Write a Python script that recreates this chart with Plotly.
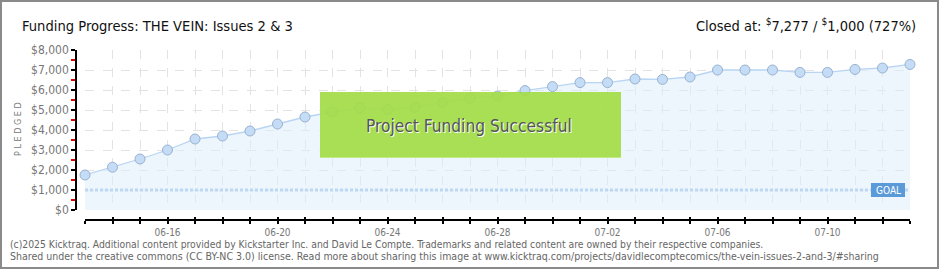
import plotly.graph_objects as go

# Daily pledged totals for the campaign
dates = [
    "2025-06-13", "2025-06-14", "2025-06-15", "2025-06-16", "2025-06-17", "2025-06-18",
    "2025-06-19", "2025-06-20", "2025-06-21", "2025-06-22", "2025-06-23", "2025-06-24",
    "2025-06-25", "2025-06-26", "2025-06-27", "2025-06-28", "2025-06-29", "2025-06-30",
    "2025-07-01", "2025-07-02", "2025-07-03", "2025-07-04", "2025-07-05", "2025-07-06",
    "2025-07-07", "2025-07-08", "2025-07-09", "2025-07-10", "2025-07-11", "2025-07-12",
    "2025-07-13",
]
pledged = [
    1750, 2140, 2550, 3000, 3550, 3700, 3950, 4300, 4650, 4900, 5100, 5030,
    5130, 5370, 5600, 5700, 5970, 6170, 6370, 6370, 6550, 6530, 6650, 7000,
    7000, 7000, 6880, 6880, 7030, 7100, 7277,
]
goal = 1000

label_dates = ["2025-06-16", "2025-06-20", "2025-06-24", "2025-06-28",
               "2025-07-02", "2025-07-06", "2025-07-10"]
label_text = ["06-16", "06-20", "06-24", "06-28", "07-02", "07-06", "07-10"]
y_ticks = [0, 1000, 2000, 3000, 4000, 5000, 6000, 7000, 8000]
y_labels = ["$0", "$1,000", "$2,000", "$3,000", "$4,000", "$5,000", "$6,000", "$7,000", "$8,000"]

FONT = "Liberation Sans Narrow, DejaVu Sans Condensed, Roboto, sans-serif"
W, H = 940, 270
ML, MR, MT, MB = 76, 30, 50, 50
PW, PH = W - ML - MR, H - MT - MB


def px(x):
    return (x - ML) / PW


def py(y):
    return (H - MB - y) / PH


ticktext = [label_text[label_dates.index(d)] if d in label_dates else "" for d in dates]

fig = go.Figure()

# goal line
fig.add_trace(go.Scatter(
    x=[dates[0], dates[-1]], y=[goal, goal], mode="lines",
    line=dict(color="#98bde8", width=3, dash="3px,2px"),
    hoverinfo="skip", showlegend=False,
))

# pledged progress with shaded area
fig.add_trace(go.Scatter(
    x=dates, y=pledged, mode="lines+markers",
    fill="tozeroy", fillcolor="rgba(222,236,252,0.55)",
    line=dict(color="#b9d5f3", width=1.3),
    marker=dict(size=10, color="#c5dcf7", line=dict(color="#98b2cf", width=1)),
    cliponaxis=False, showlegend=False,
))

# second x axis only for inward half of the day ticks
fig.add_trace(go.Scatter(x=[dates[0]], y=[None], xaxis="x2", showlegend=False,
                         hoverinfo="skip"))

fig.update_layout(
    width=W, height=H,
    margin=dict(l=ML, r=MR, t=MT, b=MB),
    paper_bgcolor="white", plot_bgcolor="white",
    xaxis=dict(
        domain=[px(85), 1], anchor="free", position=0,
        range=[dates[0], dates[-1]],
        tickmode="array", tickvals=dates, ticktext=ticktext,
        showgrid=True, gridcolor="#e3e3e3", griddash="dash", gridwidth=1,
        showline=True, linecolor="black", linewidth=1.5,
        ticks="outside", ticklen=3, tickcolor="black", tickwidth=1.5,
        tickfont=dict(family=FONT, size=10, color="#777777"),
        zeroline=False,
    ),
    xaxis2=dict(
        overlaying="x", domain=[px(85), 1], anchor="free", position=0,
        range=[dates[0], dates[-1]],
        tickmode="array", tickvals=dates, showticklabels=False,
        showgrid=False, showline=False, zeroline=False,
        ticks="inside", ticklen=3, tickcolor="black", tickwidth=1.5,
    ),
    yaxis=dict(
        domain=[py(210), 1], anchor="free", position=0,
        range=[0, 8000], tickmode="array", tickvals=y_ticks, ticktext=y_labels,
        showgrid=True, gridcolor="#e3e3e3", griddash="dash", gridwidth=1,
        showline=True, linecolor="black", linewidth=1.5,
        ticks="outside", ticklen=4, tickcolor="black", tickwidth=1.5,
        minor=dict(dtick=500, ticks="outside", ticklen=4, tickcolor="#e00000",
                   tickwidth=1.5, showgrid=False),
        tickfont=dict(family=FONT, size=12, color="#777777"), zeroline=False,
    ),
    shapes=[
        # outer frame
        dict(type="rect", xref="paper", yref="paper",
             x0=px(1), x1=px(938), y0=py(268), y1=py(1),
             line=dict(color="#8a8a8a", width=2), fillcolor="rgba(0,0,0,0)", layer="above"),
        # success banner
        dict(type="rect", xref="paper", yref="paper",
             x0=px(320), x1=px(621), y0=py(158), y1=py(92),
             line=dict(width=0), fillcolor="rgba(163,220,70,0.92)", layer="above"),
        dict(type="line", xref="paper", yref="paper",
             x0=px(320), x1=px(621), y0=py(157.5), y1=py(157.5),
             line=dict(color="#c4ea86", width=1), layer="above"),
        # goal tag
        dict(type="rect", xref="paper", yref="paper",
             x0=px(871), x1=px(905), y0=py(197), y1=py(183),
             line=dict(width=0), fillcolor="#5b9ad8", layer="above"),
    ],
    annotations=[
        dict(text="Funding Progress: THE VEIN: Issues 2 & 3", xref="paper", yref="paper",
             x=px(20), y=py(25), xanchor="left", yanchor="middle", showarrow=False,
             font=dict(family=FONT, size=14.6, color="#111111")),
        dict(text="Closed at: <sup>$</sup>7,277 / <sup>$</sup>1,000 (727%)",
             xref="paper", yref="paper",
             x=px(918), y=py(25), xanchor="right", yanchor="middle", showarrow=False,
             font=dict(family=FONT, size=14.5, color="#111111")),
        dict(text="P L E D G E D", xref="paper", yref="paper", textangle=-90,
             x=px(18), y=py(129), xanchor="center", yanchor="middle", showarrow=False,
             font=dict(family=FONT, size=9, color="#777777")),
        dict(text="Project Funding Successful", xref="paper", yref="paper",
             x=px(469), y=py(126), xanchor="center", yanchor="middle", showarrow=False,
             font=dict(family=FONT, size=17.2, color="#555555",
                       shadow="1px 1px 0px #ffffff")),
        dict(text="GOAL", xref="paper", yref="paper",
             x=px(888), y=py(190), xanchor="center", yanchor="middle", showarrow=False,
             font=dict(family=FONT, size=10, color="white")),
        dict(text="(c)2025 Kicktraq. Additional content provided by Kickstarter Inc. and David Le Compte. "
                  "Trademarks and related content are owned by their respective companies.",
             xref="paper", yref="paper", x=px(8), y=py(244), xanchor="left", yanchor="middle",
             showarrow=False, font=dict(family=FONT, size=10.3, color="#666666")),
        dict(text="Shared under the creative commons (CC BY-NC 3.0) license. Read more about sharing "
                  "this image at www.kicktraq.com/projects/davidlecomptecomics/the-vein-issues-2-and-3/#sharing",
             xref="paper", yref="paper", x=px(8), y=py(256), xanchor="left", yanchor="middle",
             showarrow=False, font=dict(family=FONT, size=10.5, color="#666666")),
    ],
    hovermode=False,
)

fig.write_html("out.html")
